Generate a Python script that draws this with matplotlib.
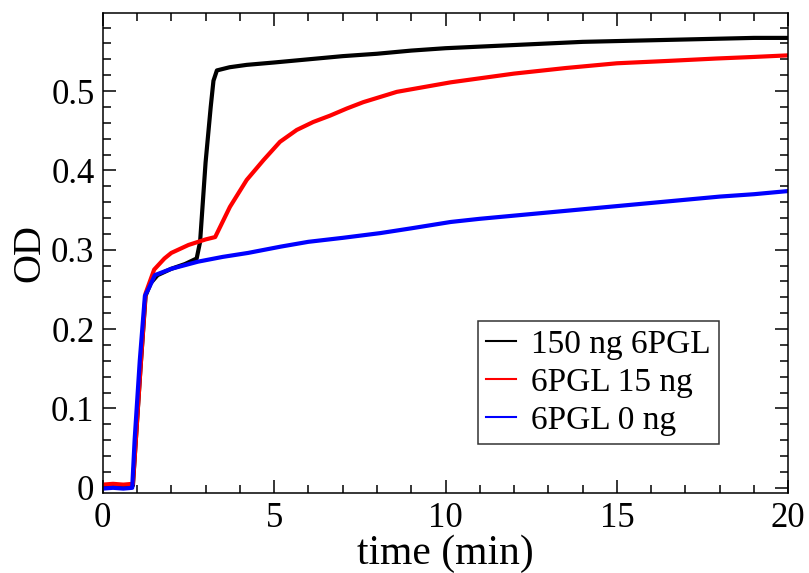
import numpy as np
import matplotlib.pyplot as plt
from matplotlib.ticker import MultipleLocator

plt.rcParams['font.family'] = ['Liberation Serif', 'DejaVu Serif']

# time (min) and OD values
t_150 = [0.0, 0.3, 0.6, 0.88, 0.95, 1.1, 1.25, 1.4, 1.6, 2.0, 2.4, 2.74, 2.84,
         3.0, 3.15, 3.23, 3.33, 3.7, 4.2, 5.0, 6.0, 7.0, 8.0, 9.0, 10.0, 11.0,
         12.0, 13.0, 14.0, 15.0, 16.0, 17.0, 18.0, 19.0, 20.0]
od_150 = [0.002, 0.003, 0.002, 0.003, 0.05, 0.15, 0.242, 0.258, 0.268, 0.276,
          0.282, 0.289, 0.31, 0.41, 0.48, 0.513, 0.526, 0.530, 0.533, 0.536,
          0.540, 0.544, 0.547, 0.551, 0.554, 0.556, 0.558, 0.560, 0.562,
          0.563, 0.564, 0.565, 0.566, 0.567, 0.567]

t_15 = [0.0, 0.3, 0.6, 0.88, 0.95, 1.1, 1.25, 1.5, 1.8, 2.0, 2.5, 3.0, 3.28,
        3.71, 4.2, 4.69, 5.17, 5.66, 6.14, 6.63, 7.12, 7.6, 8.58, 10.15, 12.0,
        13.5, 15.0, 16.5, 17.9, 19.0, 20.0]
od_15 = [0.004, 0.005, 0.004, 0.005, 0.05, 0.15, 0.245, 0.275, 0.289, 0.296,
         0.306, 0.313, 0.316, 0.354, 0.388, 0.413, 0.436, 0.451, 0.461, 0.469,
         0.478, 0.486, 0.499, 0.511, 0.522, 0.529, 0.535, 0.538, 0.541, 0.543,
         0.545]

t_0 = [0.0, 0.3, 0.6, 0.86, 0.93, 1.08, 1.23, 1.35, 1.52, 2.0, 2.78, 3.5,
       4.24, 5.2, 6.0, 7.0, 8.1, 9.0, 10.15, 11.0, 12.0, 13.0, 14.0, 15.0,
       16.0, 17.0, 18.0, 19.0, 20.0]
od_0 = [-0.001, 0.000, -0.001, 0.000, 0.06, 0.16, 0.242, 0.252, 0.268, 0.276,
        0.285, 0.291, 0.296, 0.304, 0.310, 0.315, 0.321, 0.327, 0.335, 0.339,
        0.343, 0.347, 0.351, 0.355, 0.359, 0.363, 0.367, 0.370, 0.374]

series = [
    (t_150, od_150, 'black', '150 ng 6PGL'),
    (t_15, od_15, 'red', '6PGL 15 ng'),
    (t_0, od_0, 'blue', '6PGL 0 ng'),
]

fig = plt.figure(figsize=(8.09, 5.73), dpi=100)
ax = fig.add_axes([0.127, 0.139, 0.8474, 0.8378])

for t, od, color, label in series:
    ax.plot(t, od, color=color, linewidth=3.0, label=label)

ax.set_xlim(0, 20)
ax.set_ylim(-0.007, 0.598)
ax.set_xticks([0, 5, 10, 15, 20])
ax.set_yticks([0, 0.1, 0.2, 0.3, 0.4, 0.5])
ax.set_yticklabels(['0', '0.1', '0.2', '0.3', '0.4', '0.5'])
ax.xaxis.set_minor_locator(MultipleLocator(1))
ax.yaxis.set_minor_locator(MultipleLocator(0.02))
ax.tick_params(which='both', direction='in', top=True, right=True,
               width=1.1, labelsize=25, pad=6)
ax.tick_params(which='major', length=9.5)
ax.tick_params(which='minor', length=5.5)
for sp in ax.spines.values():
    sp.set_linewidth(1.1)

ax.set_xlabel('time (min)', fontsize=30, labelpad=0)
ax.set_ylabel('OD', fontsize=29, labelpad=2)

leg = ax.legend(loc='lower left', bbox_to_anchor=(0.547, 0.103), fontsize=24,
                frameon=True, fancybox=False, handlelength=0.9,
                handletextpad=0.45, labelspacing=0.22, borderpad=0.25,
                borderaxespad=0)
leg.get_frame().set_edgecolor('black')
leg.get_frame().set_linewidth(1.1)
for line in leg.get_lines():
    line.set_linewidth(1.5)

fig.savefig('out.png', dpi=100)
